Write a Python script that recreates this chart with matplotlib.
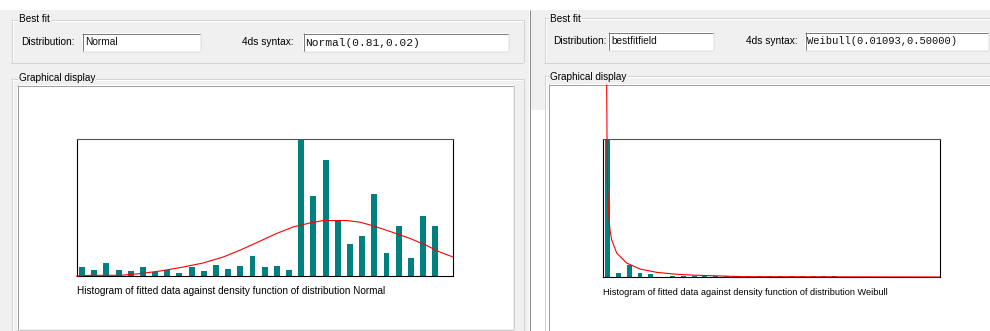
import matplotlib
matplotlib.use('Agg')
import matplotlib.pyplot as plt
from matplotlib.patches import Rectangle

W, H = 990, 331

# ---------------- data ----------------
left_bins = list(range(30))
left_freq = [27, 17, 39, 17, 15, 27, 12, 17, 10, 27, 15, 32, 20, 29, 60, 26,
             29, 17, 410, 239, 347, 167, 97, 120, 244, 68, 149, 55, 179, 149]
left_curve_x = [-0.19, 0.9, 3.37, 5.0, 6.65, 8.29, 10.2, 11.85, 13.2, 14.6,
                16.2, 17.6, 19.0, 20.06, 22.0, 23.07, 24.16, 25.8, 27.2,
                28.5, 29.6, 30.7]
left_curve_y = [0, 2, 2, 7, 15, 25, 39, 57, 77, 100, 127, 147, 159, 166, 166,
                161, 150, 130, 112, 92, 72, 57]

right_bins = list(range(22))
right_freq = [415, 12, 37, 12, 10, 0, 4, 4, 4, 3, 3, 3, 3, 4, 4, 4, 4, 4, 4,
              4, 4, 4]
right_curve_x = [0.15, 0.21, 0.37, 0.46, 0.61, 1.08, 2.0, 3.23, 4.77, 6.31,
                 7.85, 12.8, 30.9]
right_curve_y = [577, 292, 172, 142, 112, 72, 42, 24, 14, 9, 6, 1, 0]

left_dist = "Normal"
left_syntax = "Normal(0.81,0.02)"
right_dist = "bestfitfield"
right_syntax = "Weibull(0.01093,0.50000)"
left_caption = "Histogram of fitted data against density function of distribution Normal"
right_caption = "Histogram of fitted data against density function of distribution Weibull"

# ---------------- styles ----------------
GRAY = '#f0f0f0'
TEAL = '#008080'
RED = '#ff0000'
UI = ['Liberation Sans', 'DejaVu Sans']
MONO = ['Liberation Mono', 'DejaVu Sans Mono']
LW = 0.72  # ~1 px

fig = plt.figure(figsize=(W / 100, H / 100), dpi=100)
fig.patch.set_facecolor('white')
bg = fig.add_axes([0, 0, 1, 1])
bg.set_xlim(0, W)
bg.set_ylim(H, 0)
bg.axis('off')


def rect(x0, y0, x1, y1, fc='none', z=1):
    bg.add_patch(Rectangle((x0, y0), x1 - x0, y1 - y0, facecolor=fc,
                           edgecolor='none', zorder=z))


def hl(y, x0, x1, c, z=3):
    bg.plot([x0, x1], [y + 0.5, y + 0.5], color=c, lw=LW, zorder=z,
            solid_capstyle='butt')


def vl(x, y0, y1, c, z=3):
    bg.plot([x + 0.5, x + 0.5], [y0, y1], color=c, lw=LW, zorder=z,
            solid_capstyle='butt')


def groupbox(x0, y0, x1, y1, label, lx, ly):
    c = '#d3d3d3'
    hl(y0, x0, x1, c)
    hl(y1, x0, x1, c)
    vl(x0, y0, y1, c)
    vl(x1, y0, y1, c)
    hl(y0 + 1, x0 + 1, x1 - 1, 'white')
    vl(x0 + 1, y0 + 1, y1 - 1, 'white')
    bg.text(lx, ly, label, family=UI, fontsize=7.2, va='center', ha='left',
            color='#000000', zorder=6,
            bbox=dict(fc=GRAY, ec='none', pad=0.6))


def textbox(x0, y0, x1, y1, txt, tx, ty, family, size):
    rect(x0, y0, x1, y1, 'white', z=4)
    hl(y0, x0, x1, '#7a7a7a', z=5)
    vl(x0, y0, y1, '#7a7a7a', z=5)
    hl(y1, x0, x1, '#e3e3e3', z=5)
    vl(x1, y0, y1, '#e3e3e3', z=5)
    bg.text(tx, ty, txt, family=family, fontsize=size, va='center',
            ha='left', color='#101010', zorder=6)


# backgrounds
rect(0, 10, 529, H, GRAY)
rect(530, 10, W, 84, GRAY)
rect(530, 84, 548, 110, GRAY)
vl(529, 10, H, '#8a8a8a', z=4)

# ---------------- left panel GUI ----------------
groupbox(11, 19, 523, 62, "Best fit", 19, 19)
bg.text(21, 42, "Distribution:", family=UI, fontsize=7.3, va='center',
        ha='left', zorder=6)
textbox(82, 33, 200, 51, left_dist, 85, 42, UI, 7.3)
bg.text(242, 42, "4ds syntax:", family=UI, fontsize=7.3, va='center',
        ha='left', zorder=6)
textbox(303, 33, 508, 51, left_syntax, 305, 42.5, MONO, 8.1)

groupbox(11, 78, 523, H + 5, "Graphical display", 19, 78)
rect(17, 85, 513, 329, 'white', z=4)
hl(85, 17, 513, '#a0a0a0', z=5)
vl(17, 85, 329, '#a0a0a0', z=5)
hl(329, 17, 514, '#c8c8c8', z=5)
vl(513, 85, 329, '#c8c8c8', z=5)

# ---------------- right panel GUI ----------------
groupbox(544, 17, W + 5, 62, "Best fit", 550, 18.5)
bg.text(553, 40.5, "Distribution:", family=UI, fontsize=7.3, va='center',
        ha='left', zorder=6)
textbox(608, 32, 713, 50, right_dist, 611, 40.5, UI, 7.3)
bg.text(746, 40.5, "4ds syntax:", family=UI, fontsize=7.3, va='center',
        ha='left', zorder=6)
textbox(805, 32, 988, 50, right_syntax, 807, 41, MONO, 7.6)

groupbox(544, 75, W + 5, H + 5, "Graphical display", 550, 77)
rect(549, 84, W, H, 'white', z=4)
hl(84, 549, W, '#a0a0a0', z=5)
vl(548, 84, H, '#a0a0a0', z=5)

# captions
bg.text(77, 291, left_caption, family=UI, fontsize=7.2, va='center',
        ha='left', zorder=6)
bg.text(603, 292.5, right_caption, family=UI, fontsize=6.6, va='center',
        ha='left', zorder=6)


# ---------------- charts ----------------
def px_axes(x0, y0, x1, y1):
    a = fig.add_axes([x0 / W, 1 - y1 / H, (x1 - x0) / W, (y1 - y0) / H])
    a.set_zorder(10)
    a.set_facecolor('white')
    a.set_xticks([])
    a.set_yticks([])
    for s in a.spines.values():
        s.set_color('#000000')
        s.set_linewidth(0.8)
    a.spines['top'].set_color('#555555')
    return a


axL = px_axes(77.3, 139, 453.3, 276)
axL.bar(left_bins, left_freq, width=0.49, align='edge', color=TEAL, lw=0)
axL.plot(left_curve_x, left_curve_y, color=RED, lw=0.8, clip_on=False,
         zorder=5)
axL.set_xlim(-0.14, 30.73)
axL.set_ylim(0, max(left_freq))

axR = px_axes(603.3, 139, 940, 277)
axR.bar(right_bins, right_freq, width=0.46, align='edge', color=TEAL, lw=0)
axR.plot(right_curve_x, right_curve_y, color=RED, lw=0.8, clip_on=False,
         zorder=5)
axR.set_xlim(-0.16, 30.95)
axR.set_ylim(0, max(right_freq))

fig.savefig('out.png', dpi=100)
